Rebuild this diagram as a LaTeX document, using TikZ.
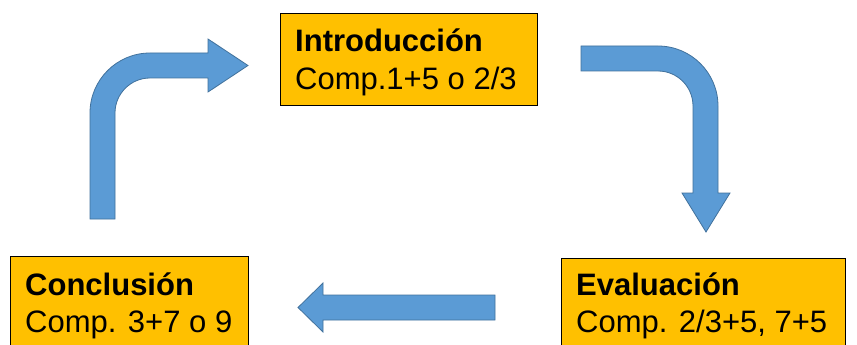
\documentclass[tikz,border=0pt]{standalone}
\usepackage{fontspec}
\setmainfont{Liberation Sans}
\definecolor{boxgold}{HTML}{FFC000}
\definecolor{arrowblue}{HTML}{5B9BD5}
\definecolor{arrowedge}{HTML}{41719C}
\begin{document}
\begin{tikzpicture}[x=1pt,y=-1pt,
  stagebox/.style={draw=black, line width=0.9pt, fill=boxgold, anchor=north west, inner sep=0pt},
  title/.style={anchor=base west, inner sep=0pt, font=\fontsize{31}{37}\selectfont\bfseries},
  sub/.style={anchor=base west, inner sep=0pt, font=\fontsize{31}{37}\selectfont},
  blockarrow/.style={fill=arrowblue, draw=arrowedge, line width=0.8pt, line join=miter}]
\useasboundingbox (0,0) rectangle (857,345);
\clip (0,0) rectangle (857,345);
\fill[white] (0,0) rectangle (857,345);
% boxes
\node[stagebox, minimum width=257pt, minimum height=92pt] (intro) at (280,13) {};
\node[title] (introT) at (295,52) {Introducción};
\node[sub] (introS) at (295,89) {Comp.1+5 o 2/3};
\node[stagebox, minimum width=238pt, minimum height=110pt] (concl) at (10,256) {};
\node[title] (conclT) at (25,295) {Conclusión};
\node[sub] (conclS) at (25,332) {Comp. 3+7 o 9};
\node[stagebox, minimum width=284pt, minimum height=110pt] (eval) at (561,258) {};
\node[title] (evalT) at (576,295) {Evaluación};
\node[sub] (evalS) at (576,332) {Comp. 2/3+5, 7+5};
% top-right bent arrow
\draw[blockarrow] (581,46) -- (658,46) .. controls (691.1,46) and (718,72.9) .. (718,106)
  -- (718,193) -- (730,193) -- (706,232) -- (682,193) -- (693,193) -- (693,106)
  .. controls (693,86.7) and (677.3,71) .. (658,71) -- (581,71) -- cycle;
% left bent arrow
\draw[blockarrow] (90,219) -- (90,113) .. controls (90,79.9) and (116.9,53) .. (150,53)
  -- (208,53) -- (208,39) -- (248,65.5) -- (208,92) -- (208,78) -- (150,78)
  .. controls (130.7,78) and (115,93.7) .. (115,113) -- (115,219) -- cycle;
% bottom arrow
\draw[blockarrow] (495,295) -- (323,295) -- (323,283) -- (298,307.5) -- (323,332)
  -- (323,320) -- (495,320) -- cycle;
\end{tikzpicture}
\end{document}
